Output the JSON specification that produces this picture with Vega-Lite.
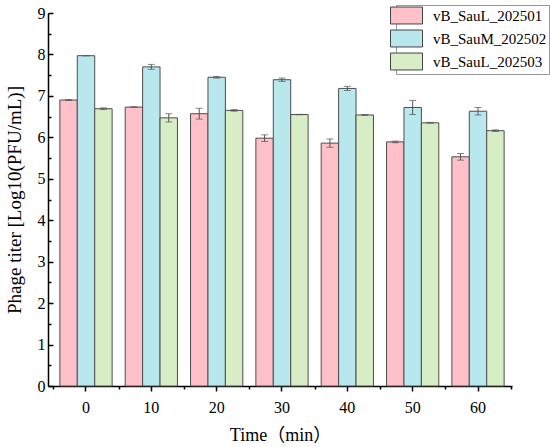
{
  "$schema": "https://vega.github.io/schema/vega-lite/v6.json",
  "width": 464,
  "height": 373,
  "autosize": {"type": "none"},
  "padding": {"left": 48, "top": 13, "right": 38, "bottom": 61},
  "background": "white",
  "config": {
    "view": {"stroke": null},
    "axis": {
      "grid": false,
      "domainColor": "black",
      "domainWidth": 1.5,
      "tickColor": "black",
      "tickWidth": 1.5,
      "labelColor": "black",
      "titleColor": "black",
      "labelFont": "Liberation Serif",
      "titleFont": "Liberation Serif, Noto Sans CJK SC",
      "titleFontWeight": "normal",
      "labelFontSize": 16
    }
  },
  "data": {
    "values": [
      {"time": "0", "strain": "vB_SauL_202501", "titer": 6.90, "lo": 6.89, "hi": 6.91},
      {"time": "0", "strain": "vB_SauM_202502", "titer": 7.97, "lo": 7.965, "hi": 7.975},
      {"time": "0", "strain": "vB_SauL_202503", "titer": 6.69, "lo": 6.67, "hi": 6.71},
      {"time": "10", "strain": "vB_SauL_202501", "titer": 6.73, "lo": 6.725, "hi": 6.735},
      {"time": "10", "strain": "vB_SauM_202502", "titer": 7.70, "lo": 7.64, "hi": 7.76},
      {"time": "10", "strain": "vB_SauL_202503", "titer": 6.47, "lo": 6.37, "hi": 6.57},
      {"time": "20", "strain": "vB_SauL_202501", "titer": 6.57, "lo": 6.44, "hi": 6.70},
      {"time": "20", "strain": "vB_SauM_202502", "titer": 7.45, "lo": 7.43, "hi": 7.47},
      {"time": "20", "strain": "vB_SauL_202503", "titer": 6.65, "lo": 6.63, "hi": 6.67},
      {"time": "30", "strain": "vB_SauL_202501", "titer": 5.98, "lo": 5.90, "hi": 6.06},
      {"time": "30", "strain": "vB_SauM_202502", "titer": 7.39, "lo": 7.35, "hi": 7.43},
      {"time": "30", "strain": "vB_SauL_202503", "titer": 6.55, "lo": 6.545, "hi": 6.555},
      {"time": "40", "strain": "vB_SauL_202501", "titer": 5.86, "lo": 5.76, "hi": 5.96},
      {"time": "40", "strain": "vB_SauM_202502", "titer": 7.18, "lo": 7.13, "hi": 7.23},
      {"time": "40", "strain": "vB_SauL_202503", "titer": 6.54, "lo": 6.53, "hi": 6.55},
      {"time": "50", "strain": "vB_SauL_202501", "titer": 5.89, "lo": 5.87, "hi": 5.91},
      {"time": "50", "strain": "vB_SauM_202502", "titer": 6.72, "lo": 6.55, "hi": 6.89},
      {"time": "50", "strain": "vB_SauL_202503", "titer": 6.35, "lo": 6.34, "hi": 6.36},
      {"time": "60", "strain": "vB_SauL_202501", "titer": 5.53, "lo": 5.45, "hi": 5.61},
      {"time": "60", "strain": "vB_SauM_202502", "titer": 6.63, "lo": 6.54, "hi": 6.72},
      {"time": "60", "strain": "vB_SauL_202503", "titer": 6.16, "lo": 6.14, "hi": 6.18}
    ]
  },
  "layer": [
    {
      "mark": {"type": "bar", "stroke": "#4d4d4d", "strokeWidth": 1},
      "encoding": {
        "x": {
          "field": "time",
          "type": "ordinal",
          "sort": ["0", "10", "20", "30", "40", "50", "60"],
          "scale": {"paddingInner": 0, "paddingOuter": 0.051, "align": 0.8},
          "axis": {
            "title": "Time（min）",
            "labelAngle": 0,
            "tickSize": 5,
            "labelPadding": 8,
            "titleFontSize": 18,
            "titlePadding": 11
          }
        },
        "xOffset": {
          "field": "strain",
          "type": "nominal",
          "sort": ["vB_SauL_202501", "vB_SauM_202502", "vB_SauL_202503"],
          "scale": {"paddingInner": 0, "paddingOuter": 0.375}
        },
        "y": {
          "field": "titer",
          "type": "quantitative",
          "scale": {"domain": [0, 9], "nice": false},
          "axis": {
            "title": "Phage titer [Log10(PFU/mL)]",
            "values": [0, 1, 2, 3, 4, 5, 6, 7, 8, 9],
            "tickSize": -5,
            "labelPadding": 8,
            "titleFontSize": 19,
            "titlePadding": 13
          }
        },
        "color": {
          "field": "strain",
          "type": "nominal",
          "sort": ["vB_SauL_202501", "vB_SauM_202502", "vB_SauL_202503"],
          "scale": {
            "domain": ["vB_SauL_202501", "vB_SauM_202502", "vB_SauL_202503"],
            "range": ["#ffc1c7", "#b9e7ee", "#d6edc5"]
          },
          "legend": {
            "title": null,
            "orient": "none",
            "legendX": 348,
            "legendY": -8,
            "direction": "vertical",
            "fillColor": "white",
            "strokeColor": "#999999",
            "padding": 2,
            "rowPadding": 2,
            "symbolType": "M-2,-1.06H2V1.06H-2Z",
            "symbolSize": 256,
            "symbolStrokeColor": "#444444",
            "symbolStrokeWidth": 1,
            "symbolOpacity": 1,
            "labelFont": "Liberation Serif",
            "labelFontSize": 15,
            "labelColor": "black",
            "labelOffset": 18
          }
        }
      }
    },
    {
      "mark": {"type": "rule", "color": "#555555", "strokeWidth": 1},
      "encoding": {
        "x": {
          "field": "time",
          "type": "ordinal",
          "sort": ["0", "10", "20", "30", "40", "50", "60"],
          "axis": {
            "orient": "bottom",
            "title": null,
            "labels": false,
            "domain": false,
            "tickBand": "extent",
            "tickSize": 3
          }
        },
        "xOffset": {
          "field": "strain",
          "type": "nominal",
          "sort": ["vB_SauL_202501", "vB_SauM_202502", "vB_SauL_202503"]
        },
        "y": {
          "field": "lo",
          "type": "quantitative",
          "axis": {
            "orient": "left",
            "title": null,
            "labels": false,
            "domain": false,
            "values": [0.5, 1.5, 2.5, 3.5, 4.5, 5.5, 6.5, 7.5, 8.5],
            "tickSize": -3
          }
        },
        "y2": {"field": "hi"}
      }
    },
    {
      "mark": {"type": "tick", "color": "#555555", "thickness": 1, "size": 7},
      "encoding": {
        "x": {"field": "time", "type": "ordinal", "sort": ["0", "10", "20", "30", "40", "50", "60"], "axis": null},
        "xOffset": {"field": "strain", "type": "nominal", "sort": ["vB_SauL_202501", "vB_SauM_202502", "vB_SauL_202503"]},
        "y": {"field": "lo", "type": "quantitative", "axis": null}
      }
    },
    {
      "mark": {"type": "tick", "color": "#555555", "thickness": 1, "size": 7},
      "encoding": {
        "x": {"field": "time", "type": "ordinal", "sort": ["0", "10", "20", "30", "40", "50", "60"], "axis": null},
        "xOffset": {"field": "strain", "type": "nominal", "sort": ["vB_SauL_202501", "vB_SauM_202502", "vB_SauL_202503"]},
        "y": {"field": "hi", "type": "quantitative", "axis": null}
      }
    }
  ],
  "resolve": {"axis": {"x": "independent", "y": "independent"}}
}
